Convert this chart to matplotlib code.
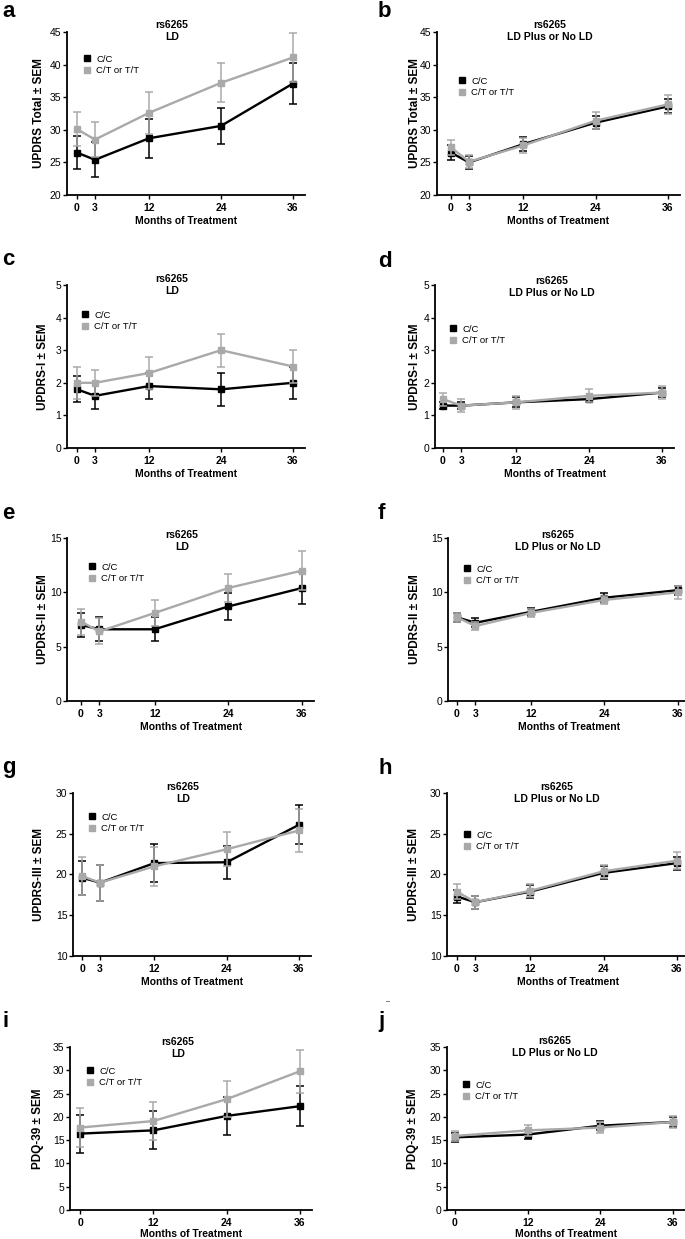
import matplotlib
matplotlib.use('Agg')
import matplotlib.pyplot as plt
from matplotlib.lines import Line2D

plt.rcParams['font.family'] = ['Liberation Sans', 'DejaVu Sans']

# ---------------- data ----------------
months5 = [0, 3, 12, 24, 36]
months4 = [0, 12, 24, 36]
groups = ['C/C', 'C/T or T/T']

a_cc = [26.5, 25.4, 28.7, 30.6, 37.1]; a_cc_err = [2.5, 2.7, 3.0, 2.8, 3.2]
a_ct = [30.1, 28.5, 32.6, 37.2, 41.1]; a_ct_err = [2.6, 2.7, 3.2, 3.0, 3.7]
b_cc = [26.5, 25.0, 27.8, 31.1, 33.6]; b_cc_err = [1.1, 1.0, 1.1, 1.0, 1.1]
b_ct = [27.3, 25.1, 27.6, 31.4, 33.9]; b_ct_err = [1.1, 1.0, 1.2, 1.3, 1.5]
c_cc = [1.8, 1.6, 1.9, 1.8, 2.0]; c_cc_err = [0.4, 0.4, 0.4, 0.5, 0.5]
c_ct = [2.0, 2.0, 2.3, 3.0, 2.5]; c_ct_err = [0.5, 0.4, 0.5, 0.5, 0.5]
d_cc = [1.3, 1.3, 1.4, 1.5, 1.7]; d_cc_err = [0.1, 0.1, 0.15, 0.1, 0.15]
d_ct = [1.5, 1.3, 1.4, 1.6, 1.7]; d_ct_err = [0.2, 0.2, 0.2, 0.2, 0.2]
e_cc = [7.0, 6.6, 6.6, 8.7, 10.4]; e_cc_err = [1.1, 1.1, 1.1, 1.2, 1.5]
e_ct = [7.3, 6.4, 8.1, 10.4, 12.0]; e_ct_err = [1.2, 1.2, 1.2, 1.3, 1.8]
f_cc = [7.7, 7.2, 8.2, 9.5, 10.2]; f_cc_err = [0.4, 0.4, 0.4, 0.4, 0.4]
f_ct = [7.7, 6.9, 8.1, 9.3, 10.0]; f_ct_err = [0.4, 0.4, 0.4, 0.4, 0.6]
g_cc = [19.6, 19.0, 21.4, 21.5, 26.1]; g_cc_err = [2.1, 2.2, 2.3, 2.0, 2.4]
g_ct = [19.8, 19.0, 21.0, 23.1, 25.4]; g_ct_err = [2.3, 2.2, 2.4, 2.1, 2.6]
h_cc = [17.3, 16.6, 17.9, 20.2, 21.4]; h_cc_err = [0.8, 0.8, 0.8, 0.8, 0.8]
h_ct = [17.9, 16.6, 18.0, 20.4, 21.7]; h_ct_err = [0.9, 0.8, 0.8, 0.8, 1.0]
i_cc = [16.4, 17.1, 20.2, 22.3]; i_cc_err = [4.1, 4.1, 4.1, 4.3]
i_ct = [17.7, 19.1, 23.8, 29.8]; i_ct_err = [4.2, 4.1, 3.9, 4.6]
j_cc = [15.6, 16.2, 18.1, 18.9]; j_cc_err = [1.0, 1.0, 1.0, 1.0]
j_ct = [15.9, 17.1, 17.7, 18.9]; j_ct_err = [1.0, 1.2, 1.1, 1.3]

yticks_total = [20, 25, 30, 35, 40, 45]
yticks_i = [0, 1, 2, 3, 4, 5]
yticks_ii = [0, 5, 10, 15]
yticks_iii = [10, 15, 20, 25, 30]
yticks_pdq = [0, 5, 10, 15, 20, 25, 30, 35]

GRAY = '#A9A9A9'
W, H = 685, 1239
fig = plt.figure(figsize=(W / 100, H / 100), dpi=100)


def panel(letter, letter_xy, spine, x0, x36, ytop, ybot, yticks, months,
          cc, cc_err, ct, ct_err, ylabel, subtitle, title_xy, leg_xy,
          ylabel_x, xlabel_y):
    ppm = (x36 - x0) / 36.0
    right_px = x0 + 38 * ppm
    ax = fig.add_axes([spine / W, 1 - ybot / H, (right_px - spine) / W,
                       (ybot - ytop) / H])
    ax.set_xlim(-(x0 - spine) / ppm, 38)
    ax.set_ylim(yticks[0], yticks[-1])
    kw = dict(marker='s', ms=4.5, lw=1.7, elinewidth=1.1, capsize=3,
              capthick=1.1, clip_on=False)
    ax.errorbar(months, cc, yerr=cc_err, color='black', zorder=3, **kw)
    ax.errorbar(months, ct, yerr=ct_err, color=GRAY, zorder=4, **kw)
    ax.set_xticks(months)
    ax.set_yticks(yticks)
    for s in ['top', 'right']:
        ax.spines[s].set_visible(False)
    for s in ['left', 'bottom']:
        ax.spines[s].set_linewidth(1.3)
    ax.tick_params(axis='y', labelsize=7.5, length=3, width=1, pad=1)
    ax.tick_params(axis='x', labelsize=7.5, length=3, width=1, pad=2.5)
    for lbl in ax.get_xticklabels():
        lbl.set_fontweight('bold')
    ax.set_ylabel(ylabel, fontsize=8.5, fontweight='bold')
    ax.yaxis.set_label_coords((ylabel_x + 6.5 - spine) / (right_px - spine), 0.5)
    ax.set_xlabel('Months of Treatment', fontsize=7.5, fontweight='bold')
    ax.xaxis.set_label_coords(0.5, -(xlabel_y - 5 - ybot) / (ybot - ytop))
    handles = [Line2D([], [], marker='s', ls='None', color='black', ms=4.5),
               Line2D([], [], marker='s', ls='None', color=GRAY, ms=4.5)]
    ax.legend(handles, groups, loc='upper left',
              bbox_to_anchor=((leg_xy[0] - 4) / W, 1 - (leg_xy[1] - 5.5) / H),
              bbox_transform=fig.transFigure, frameon=False, fontsize=6.8,
              handlelength=0.8, handletextpad=0.6, borderpad=0,
              borderaxespad=0, labelspacing=0.3)
    fig.text(title_xy[0] / W, 1 - title_xy[1] / H, 'rs6265\n' + subtitle,
             ha='center', va='center', fontsize=7.5, fontweight='bold',
             linespacing=1.25)
    fig.text(letter_xy[0] / W, 1 - letter_xy[1] / H, letter, fontsize=16,
             fontweight='bold', ha='left', va='baseline')
    return ax


panel('a', (2, 17), 67, 77, 293, 32, 195, yticks_total, months5,
      a_cc, a_cc_err, a_ct, a_ct_err, 'UPDRS Total ± SEM', 'LD',
      (172, 30.5), (87, 60), 39, 221)
panel('b', (378, 17), 437, 451, 668, 32, 195, yticks_total, months5,
      b_cc, b_cc_err, b_ct, b_ct_err, 'UPDRS Total ± SEM', 'LD Plus or No LD',
      (550, 30.5), (462, 82), 414, 221)
panel('c', (2, 265), 67, 77, 293, 285, 448, yticks_i, months5,
      c_cc, c_cc_err, c_ct, c_ct_err, 'UPDRS-I ± SEM', 'LD',
      (172, 285), (85, 316), 42, 474)
panel('d', (378, 267), 435, 443, 662, 285, 448, yticks_i, months5,
      d_cc, d_cc_err, d_ct, d_ct_err, 'UPDRS-I ± SEM', 'LD Plus or No LD',
      (552, 286.5), (453, 330), 414, 474)
panel('e', (2, 519), 67, 81, 302, 538, 701, yticks_ii, months5,
      e_cc, e_cc_err, e_ct, e_ct_err, 'UPDRS-II ± SEM', 'LD',
      (182, 541), (92, 568), 43, 727)
panel('f', (378, 519), 448, 457, 678, 538, 701, yticks_ii, months5,
      f_cc, f_cc_err, f_ct, f_ct_err, 'UPDRS-II ± SEM', 'LD Plus or No LD',
      (558, 541), (467, 570), 414, 727)
panel('g', (2, 773), 73, 82, 299, 793, 956, yticks_iii, months5,
      g_cc, g_cc_err, g_ct, g_ct_err, 'UPDRS-III ± SEM', 'LD',
      (183, 793), (92, 818), 39, 982)
panel('h', (379, 774), 447, 457, 677, 793, 956, yticks_iii, months5,
      h_cc, h_cc_err, h_ct, h_ct_err, 'UPDRS-III ± SEM', 'LD Plus or No LD',
      (557, 793), (467, 836), 414, 982)
panel('i', (2, 1027), 70, 80, 300, 1047, 1210, yticks_pdq, months4,
      i_cc, i_cc_err, i_ct, i_ct_err, 'PDQ-39 ± SEM', 'LD',
      (178, 1048), (90, 1072), 38, 1234)
panel('j', (378, 1027), 447, 455, 673, 1047, 1210, yticks_pdq, months4,
      j_cc, j_cc_err, j_ct, j_ct_err, 'PDQ-39 ± SEM', 'LD Plus or No LD',
      (555, 1047), (466, 1086), 413, 1234)

fig.text(386 / W, 1 - 1002 / H, '–', fontsize=5, ha='left', va='center')

fig.savefig('out.png', dpi=100)
